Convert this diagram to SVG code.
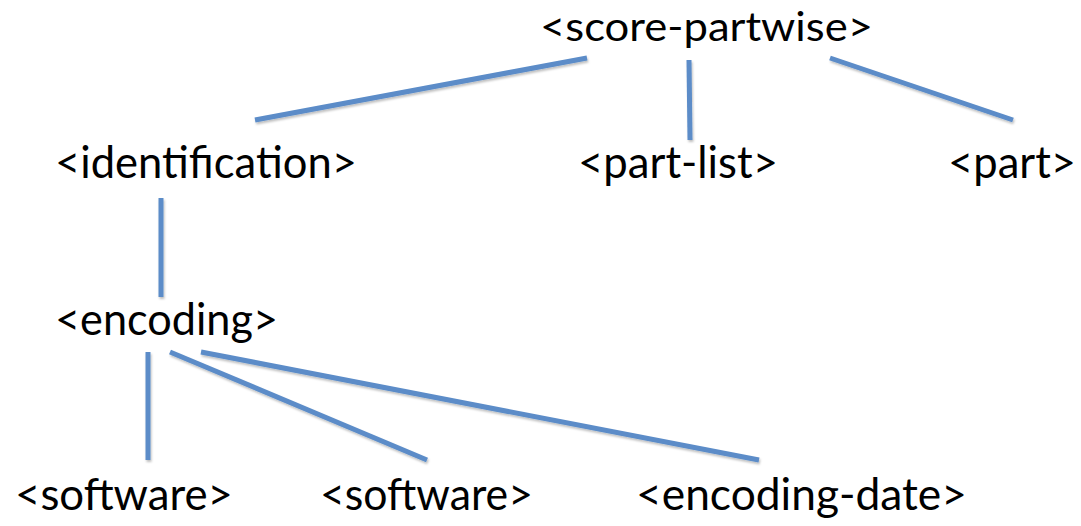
<svg xmlns="http://www.w3.org/2000/svg" width="1081" height="526" viewBox="0 0 1081 526">
<defs>
<style>
.lbl{font-family:Lato,"Open Sans","Liberation Sans",sans-serif;font-size:44px;fill:#000}
.top{font-size:41px}
.edge{stroke:#5b8cc8;stroke-width:5;fill:none}
</style>
<filter id="sh" x="-10%" y="-50%" width="120%" height="200%">
<feDropShadow dx="1" dy="2" stdDeviation="1.2" flood-color="#000" flood-opacity="0.25"/>
</filter>
</defs>
<rect width="1081" height="526" fill="#fff"/>
<g id="connectors" filter="url(#sh)">
<line class="edge" x1="587" y1="58" x2="255" y2="120"/>
<line class="edge" x1="689" y1="60" x2="690" y2="140"/>
<line class="edge" x1="830" y1="58" x2="1013" y2="120"/>
<line class="edge" x1="161" y1="198" x2="161" y2="297"/>
<line class="edge" x1="148" y1="352" x2="148" y2="460"/>
<line class="edge" x1="170" y1="352" x2="427" y2="460"/>
<line class="edge" x1="201" y1="352" x2="759" y2="460"/>
</g>
<g id="n-score-partwise"><text class="lbl top" x="540" y="41" textLength="333" lengthAdjust="spacingAndGlyphs">&lt;score-partwise&gt;</text></g>
<g id="n-identification"><text class="lbl" x="55" y="178" textLength="302" lengthAdjust="spacingAndGlyphs">&lt;identification&gt;</text></g>
<g id="n-part-list"><text class="lbl" x="578" y="178" textLength="200" lengthAdjust="spacingAndGlyphs">&lt;part-list&gt;</text></g>
<g id="n-part"><text class="lbl" x="948" y="178" textLength="128" lengthAdjust="spacingAndGlyphs">&lt;part&gt;</text></g>
<g id="n-encoding"><text class="lbl" x="55" y="335" textLength="223" lengthAdjust="spacingAndGlyphs">&lt;encoding&gt;</text></g>
<g id="n-software-1"><text class="lbl" x="15" y="510" textLength="218" lengthAdjust="spacingAndGlyphs">&lt;software&gt;</text></g>
<g id="n-software-2"><text class="lbl" x="320" y="510" textLength="213" lengthAdjust="spacingAndGlyphs">&lt;software&gt;</text></g>
<g id="n-encoding-date"><text class="lbl" x="636" y="510" textLength="331" lengthAdjust="spacingAndGlyphs">&lt;encoding-date&gt;</text></g>
</svg>
